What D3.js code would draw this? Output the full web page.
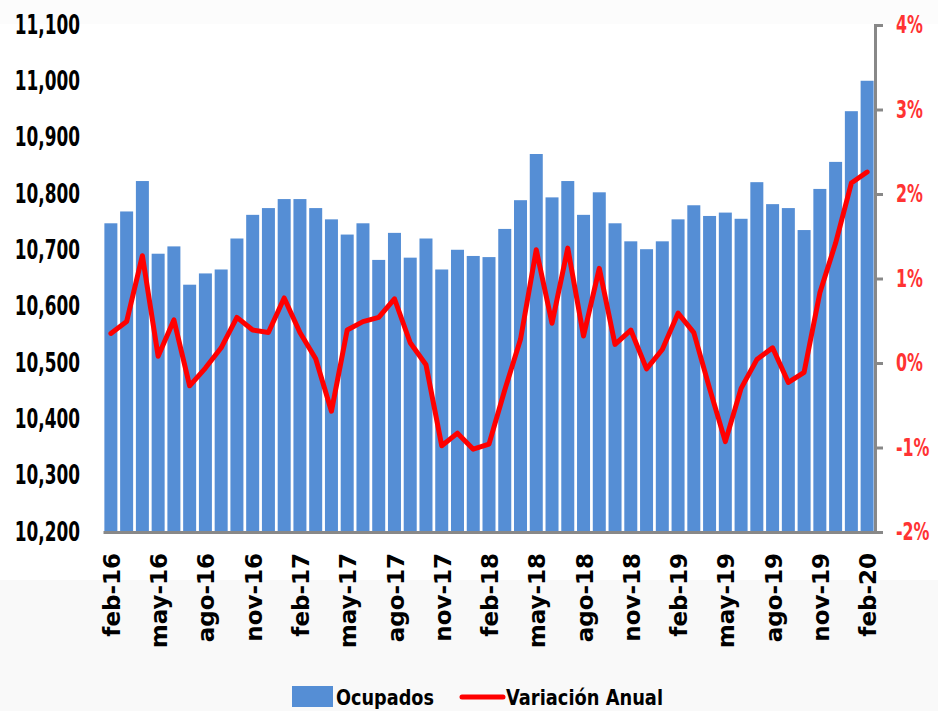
<!DOCTYPE html>
<html>
<head>
<meta charset="utf-8">
<script src="https://cdn.jsdelivr.net/npm/d3@7"></script>
<style>
  body { margin: 0; background: #fff; }
  svg { display: block; }
</style>
</head>
<body>
<div id="chart"></div>
<script>
// data
const meses = ["feb-16","mar-16","abr-16","may-16","jun-16","jul-16","ago-16","sep-16","oct-16","nov-16","dic-16","ene-17",
  "feb-17","mar-17","abr-17","may-17","jun-17","jul-17","ago-17","sep-17","oct-17","nov-17","dic-17","ene-18",
  "feb-18","mar-18","abr-18","may-18","jun-18","jul-18","ago-18","sep-18","oct-18","nov-18","dic-18","ene-19",
  "feb-19","mar-19","abr-19","may-19","jun-19","jul-19","ago-19","sep-19","oct-19","nov-19","dic-19","ene-20","feb-20"]

const ocupados = [10748,10769,10823,10694,10707,10639,10659,10666,10721,10763,10775,10791,
  10791,10775,10755,10728,10748,10683,10731,10687,10721,10666,10701,10690,
  10688,10738,10789,10871,10794,10823,10763,10803,10748,10716,10702,10716,
  10755,10780,10761,10767,10756,10821,10782,10775,10736,10809,10857,10947,11001]

const variacion = [0.35,0.49,1.27,0.08,0.51,-0.27,-0.06,0.18,0.54,0.39,0.36,0.77,
  0.36,0.05,-0.57,0.39,0.49,0.54,0.76,0.24,-0.02,-0.98,-0.83,-1.02,
  -0.96,-0.32,0.28,1.34,0.47,1.36,0.32,1.12,0.22,0.39,-0.07,0.16,
  0.59,0.36,-0.30,-0.93,-0.30,0.04,0.18,-0.23,-0.11,0.83,1.42,2.13,2.26]

const leftTicks = [10200,10300,10400,10500,10600,10700,10800,10900,11000,11100]
const rightTicks = [-2,-1,0,1,2,3,4]

// sizes
const width = 938
const height = 711
const margin = { top: 25, bottom: 179, left: 103, right: 63 }
const innerW = width - margin.left - margin.right
const innerH = height - margin.top - margin.bottom

const barColor = "#558ED5"
const lineColor = "#FF0000"
const numFont = "'DejaVu Sans', sans-serif"

// squeeze wide DejaVu text so it looks like a narrow font
function squeeze(sel, ratio) {
    sel.each(function() {
        const len = this.getComputedTextLength()
        d3.select(this).attr("textLength", len * ratio).attr("lengthAdjust", "spacingAndGlyphs")
    })
}

const svg = d3.select("#chart").append("svg").attr("width", width).attr("height", height)

// faint background bands
svg.append("rect").attr("x", 0).attr("y", 0).attr("width", width).attr("height", height).attr("fill", "#fff")
svg.append("rect").attr("x", 0).attr("y", 580).attr("width", width).attr("height", height - 580).attr("fill", "#f9f9f9")
svg.append("rect").attr("x", 0).attr("y", 0).attr("width", width).attr("height", 24).attr("fill", "#fcfcfc")

const g = svg.append("g").attr("transform", `translate(${margin.left}, ${margin.top})`)

// scales
const x = d3.scaleBand().domain(meses).range([0, innerW]).paddingInner(0.175).paddingOuter(0.0875)
const y = d3.scaleLinear().domain([10200, 11100]).range([innerH, 0])
const y2 = d3.scaleLinear().domain([-2, 4]).range([innerH, 0])

// bars
g.selectAll("rect.bar").data(ocupados).enter().append("rect")
    .attr("class", "bar")
    .attr("x", (d, i) => x(meses[i]))
    .attr("y", d => y(d))
    .attr("width", x.bandwidth())
    .attr("height", d => innerH - y(d))
    .attr("fill", barColor)

// line
const line = d3.line()
    .x((d, i) => x(meses[i]) + x.bandwidth() / 2)
    .y(d => y2(d))
g.append("path").datum(variacion)
    .attr("d", line)
    .attr("fill", "none")
    .attr("stroke", lineColor)
    .attr("stroke-width", 5)
    .attr("stroke-linejoin", "round")
    .attr("stroke-linecap", "round")

// left axis (labels only)
const yAxis = d3.axisLeft(y).tickValues(leftTicks).tickSize(0).tickPadding(23).tickFormat(d3.format(","))
const yG = g.append("g").call(yAxis)
yG.select(".domain").remove()
yG.selectAll("text").attr("font-family", numFont).attr("font-weight", "bold").attr("font-size", 26).attr("fill", "#000")
    .call(squeeze, 0.65)

// right axis
const y2Axis = d3.axisRight(y2).tickValues(rightTicks).tickSize(8).tickPadding(13).tickFormat(d => d + "%")
const y2G = g.append("g").attr("transform", `translate(${innerW}, 0)`).call(y2Axis)
y2G.select(".domain").attr("stroke", "#888").attr("stroke-width", 3)
y2G.selectAll("line").attr("stroke", "#888").attr("stroke-width", 3)
y2G.selectAll("text").attr("font-family", numFont).attr("font-weight", "bold").attr("font-size", 24).attr("fill", "#FF3333")
    .call(squeeze, 0.66)

// bottom axis
const labelIdx = d3.range(0, meses.length, 3)
const xAxis = d3.axisBottom(x).tickValues(labelIdx.map(i => meses[i])).tickSize(0).tickPadding(0)
const xG = g.append("g").attr("transform", `translate(0, ${innerH})`).call(xAxis)
xG.select(".domain").attr("stroke", "#888").attr("stroke-width", 3)
xG.selectAll("text")
    .attr("font-family", "'DejaVu Sans', sans-serif")
    .attr("font-weight", "bold")
    .attr("font-size", 23)
    .attr("fill", "#000")
    .attr("text-anchor", "end")
    .attr("dy", "0.35em")
    .attr("transform", "translate(1, 21) rotate(-90)")

// legend
const legend = svg.append("g").attr("transform", "translate(292, 686)")
legend.append("rect").attr("x", 0).attr("y", 0).attr("width", 41).attr("height", 21).attr("fill", barColor)
legend.append("text").attr("x", 44).attr("y", 19).text("Ocupados")
    .attr("font-family", numFont).attr("font-weight", "bold").attr("font-size", 22).attr("fill", "#000")
    .attr("textLength", 98).attr("lengthAdjust", "spacingAndGlyphs")
legend.append("line").attr("x1", 170).attr("x2", 211).attr("y1", 11).attr("y2", 11)
    .attr("stroke", lineColor).attr("stroke-width", 5).attr("stroke-linecap", "round")
legend.append("text").attr("x", 214).attr("y", 19).text("Variación Anual")
    .attr("font-family", numFont).attr("font-weight", "bold").attr("font-size", 22).attr("fill", "#000")
    .attr("textLength", 157).attr("lengthAdjust", "spacingAndGlyphs")
</script>
</body>
</html>
